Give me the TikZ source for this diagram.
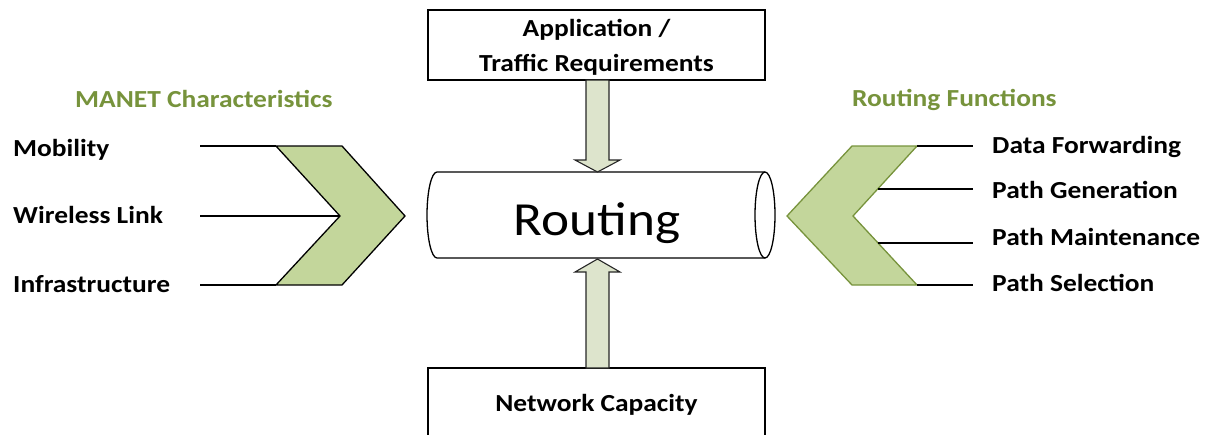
\documentclass[tikz,border=0pt]{standalone}
\usepackage{fontspec}
\setmainfont[FakeStretch=1.12]{Carlito}
\usetikzlibrary{calc}
\definecolor{olive}{HTML}{77933C}
\definecolor{chevfill}{HTML}{C3D69B}
\definecolor{arrfill}{HTML}{DDE4CC}
\tikzset{
  lbl/.style={anchor=base west, inner sep=0pt, font=\fontsize{24.5}{28}\selectfont\bfseries},
  ttl/.style={anchor=base west, inner sep=0pt, text=olive, font=\fontsize{24.5}{28}\selectfont\bfseries},
  boxnode/.style={draw=black, line width=1.5pt, fill=white, minimum width=337pt, inner sep=0pt},
  thinline/.style={draw=black, line width=1.5pt},
  fatarrow/.style={draw=black!85, line width=1.1pt, fill=arrfill, line join=miter},
}
\begin{document}
\begin{tikzpicture}[x=1pt,y=-1pt]
\useasboundingbox (0,0) rectangle (1209,434);

% top box
\node[boxnode, minimum height=70pt] (app) at (596.5,45) {};
\node[anchor=base, inner sep=0pt, font=\fontsize{24.5}{28}\selectfont\bfseries] (appt1) at (596.5,36) {Application /};
\node[anchor=base, inner sep=0pt, font=\fontsize{24.5}{28}\selectfont\bfseries] (appt2) at (596.5,71) {Traffic Requirements};

% bottom box (runs off the bottom edge)
\node[boxnode, minimum height=80pt] (net) at (596.5,408) {};
\node[anchor=base, inner sep=0pt, font=\fontsize{24.5}{28}\selectfont\bfseries] (nett) at (596.5,411) {Network Capacity};

% cylinder "Routing"
\coordinate (cylTL) at (437,172);
\coordinate (cylBL) at (437,258);
\coordinate (cylTR) at (765,172);
\coordinate (cylBR) at (765,258);
\fill[white] (cylTL) -- (cylTR) arc[start angle=-90, end angle=90, x radius=10, y radius=43] -- (cylBL) arc[start angle=90, end angle=270, x radius=10, y radius=43] -- cycle;
\draw[thinline, line width=1.3pt] (cylTL) -- (cylTR) (cylBL) -- (cylBR)
  (cylTL) arc[start angle=-90, end angle=-270, x radius=10, y radius=43];
\draw[thinline, line width=1.3pt] (765,215) ellipse[x radius=10, y radius=43];
\node[anchor=base, inner sep=0pt, font=\fontsize{47.5}{50}\selectfont] (rout) at (597,235) {Routing};

% vertical fat arrows
\draw[fatarrow] (586,80) -- (609,80) -- (609,160) -- (620,160) -- (597.5,172) -- (575,160) -- (586,160) -- cycle;
\draw[fatarrow] (586,368) -- (609,368) -- (609,272) -- (620,272) -- (597.5,259) -- (575,272) -- (586,272) -- cycle;

% left side
\node[ttl] (manet) at (75,107) {MANET Characteristics};
\node[lbl] (mob) at (13,156) {Mobility};
\node[lbl] (wl) at (13,223) {Wireless Link};
\node[lbl] (inf) at (13,292) {Infrastructure};
\draw[thinline] (200,146) -- (276,146);
\draw[thinline] (200,216) -- (340,216);
\draw[thinline] (200,285) -- (276,285);
\draw[draw=black, line width=1.3pt, fill=chevfill, line join=miter]
  (276,146) -- (342,146) -- (405,216) -- (342,285) -- (276,285) -- (340,216) -- cycle;

% right side
\node[ttl] (rf) at (852,106) {Routing Functions};
\node[lbl] (df) at (992,153) {Data Forwarding};
\node[lbl] (pg) at (992,198) {Path Generation};
\node[lbl] (pm) at (992,245) {Path Maintenance};
\node[lbl] (ps) at (992,291) {Path Selection};
\draw[draw=olive, line width=1.3pt, fill=chevfill, line join=miter]
  (917,146) -- (852,146) -- (787,216) -- (852,285) -- (917,285) -- (853,216) -- cycle;
\draw[thinline] (917,146) -- (973,146);
\draw[thinline] (877.7,189) -- (973,189);
\draw[thinline] (877.7,243) -- (973,243);
\draw[thinline] (917,285) -- (973,285);
\end{tikzpicture}
\end{document}
